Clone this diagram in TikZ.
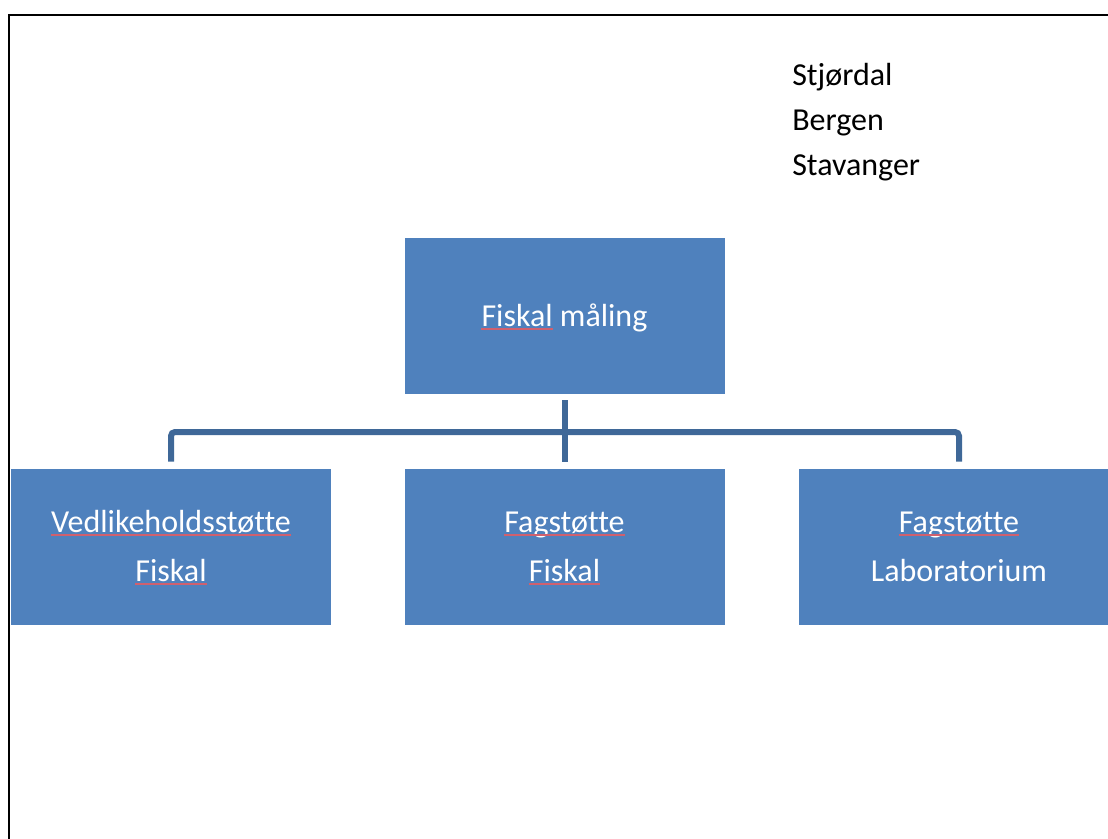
\documentclass[tikz,border=0pt]{standalone}
\usepackage{fontspec}
\setmainfont{Carlito}[Ligatures={NoCommon}]
\definecolor{boxblue}{HTML}{4F81BD}
\definecolor{linkblue}{HTML}{3F6898}
\definecolor{spellred}{HTML}{D0606E}
\begin{document}
\begin{tikzpicture}[x=0.75pt,y=-0.75pt,
  unit/.style={fill=boxblue,draw=none,minimum width=240pt,minimum height=117pt,
    inner sep=0pt},
  boxtext/.style={anchor=base,inner sep=0pt,text=white,
    font=\fontsize{24pt}{28pt}\selectfont},
  link/.style={draw=linkblue,line width=4.5pt,rounded corners=3pt},
  spell/.style={draw=spellred,line width=1.5pt},
  frameline/.style={draw=black,line width=1.6pt},
  city/.style={anchor=base west,inner sep=0pt,text=black,
    font=\fontsize{24pt}{28pt}\selectfont}]
\useasboundingbox (0,0) rectangle (1108,839);
\clip (0,0) rectangle (1108,839);

% page frame
\draw[frameline] (9,845) -- (9,15) -- (1115,15);

% locations
\node[city] (stj) at (792,85) {Stjørdal};
\node[city] (ber) at (792,130) {Bergen};
\node[city] (sta) at (792,175) {Stavanger};

% organisation boxes
\node[unit] (top) at (564.5,316) {};
\node[unit] (left) at (171,547) {};
\node[unit] (mid) at (564.5,547) {};
\node[unit] (right) at (959,547) {};

% box labels
\node[boxtext] (topA) at (564.5,326) {Fiskal måling};
\node[boxtext,anchor=base west] (topW) at (topA.base west) {\phantom{Fiskal}};
\node[boxtext] (leftA) at (171,532) {Vedlikeholdsstøtte};
\node[boxtext] (leftB) at (171,581) {Fiskal};
\node[boxtext] (midA) at (564.5,532) {Fagstøtte};
\node[boxtext] (midB) at (564.5,581) {Fiskal};
\node[boxtext] (rightA) at (959,532) {Fagstøtte};
\node[boxtext] (rightB) at (959,581) {Laboratorium};

% proofing underlines
\foreach \w in {topW,leftA,leftB,midA,midB,rightA}
  \draw[spell] ([yshift=-2.6pt]\w.base west) -- ([yshift=-2.6pt]\w.base east);

% connectors
\coordinate (bus) at (564.5,432);
\draw[link] ([yshift=-4.5pt]top.south) -- ([yshift=5.25pt]mid.north);
\draw[link] ([yshift=5.25pt]left.north) |- (bus) -| ([yshift=5.25pt]right.north);
\end{tikzpicture}
\end{document}
